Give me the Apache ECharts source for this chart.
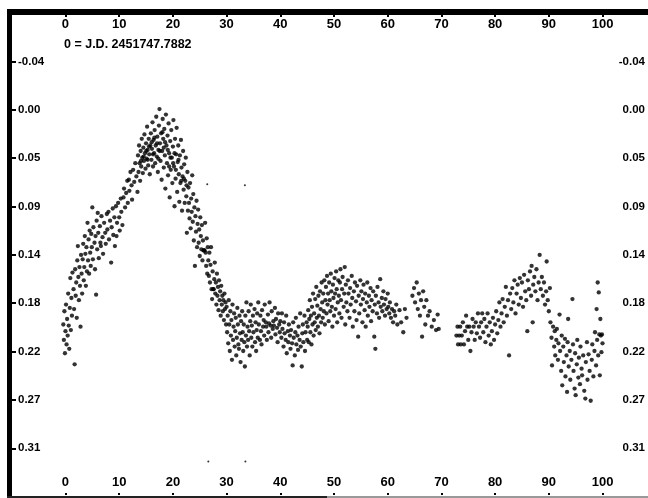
<!DOCTYPE html>
<html><head><meta charset="utf-8">
<script src="https://cdn.jsdelivr.net/npm/echarts@6/dist/echarts.min.js"></script>
<style>html,body{margin:0;padding:0;background:#fff}#c{width:648px;height:498px}</style>
</head><body><div id="c"></div>
<script>
const epochLabel = '0 = J.D. 2451747.7882';
const xTickLabels = ['0','10','20','30','40','50','60','70','80','90','100'];
const yTickLabels = ['-0.04','0.00','0.05','0.09','0.14','0.18','0.22','0.27','0.31'];
const yFirst = -0.04, yLast = 0.31, xFirst = 0, xLast = 100;

const rise = [[-0.4,0.198],[-0.3,0.212],[-0.2,0.186],[-0.1,0.224],[0.0,0.204],[0.1,0.180],[0.2,0.216],[0.3,0.193],[0.4,0.208],[0.5,0.170],[0.6,0.199],[0.7,0.220],[0.8,0.183],[0.9,0.156],[1.0,0.203],[1.1,0.174],[1.2,0.190],[1.3,0.151],[1.5,0.166],[1.6,0.184],[1.7,0.234],[1.8,0.148],[1.9,0.172],[2.0,0.160],[2.1,0.192],[2.2,0.140],[2.3,0.127],[2.4,0.155],[2.5,0.176],[2.6,0.146],[2.7,0.163],[2.8,0.200],[2.9,0.135],[3.0,0.152],[3.1,0.170],[3.2,0.139],[3.3,0.125],[3.4,0.158],[3.5,0.146],[3.6,0.118],[3.7,0.134],[3.8,0.163],[3.9,0.128],[4.0,0.150],[4.1,0.106],[4.2,0.140],[4.3,0.121],[4.4,0.152],[4.5,0.113],[4.6,0.133],[4.7,0.145],[4.8,0.116],[4.9,0.128],[5.0,0.092],[5.1,0.139],[5.2,0.110],[5.4,0.124],[5.5,0.148],[5.6,0.118],[5.7,0.171],[5.8,0.104],[5.9,0.130],[6.0,0.097],[6.1,0.115],[6.2,0.138],[6.4,0.109],[6.5,0.124],[6.6,0.127],[6.7,0.100],[6.9,0.119],[7.0,0.134],[7.2,0.106],[7.4,0.115],[7.5,0.125],[7.7,0.098],[7.8,0.112],[8.0,0.096],[8.1,0.121],[8.3,0.104],[8.5,0.142],[8.6,0.110],[8.8,0.093],[8.9,0.117],[9.1,0.101],[9.2,0.127],[9.4,0.091],[9.5,0.118],[9.6,0.106],[9.8,0.088],[10.0,0.101],[10.1,0.113],[10.3,0.084],[10.4,0.096],[10.6,0.108],[10.8,0.083],[10.9,0.075],[11.1,0.092],[11.3,0.079],[11.5,0.068],[11.6,0.088],[11.8,0.067],[11.9,0.077],[12.1,0.060],[12.3,0.072],[12.4,0.085],[12.6,0.058],[12.8,0.069],[13.0,0.052],[13.2,0.064],[13.4,0.078]];

const peak = [[13.5,0.045],[13.6,0.060],[13.7,0.036],[13.8,0.052],[13.9,0.068],[14.0,0.041],[14.1,0.055],[14.2,0.030],[14.3,0.047],[14.4,0.061],[14.5,0.038],[14.6,0.050],[14.7,0.026],[14.8,0.043],[14.9,0.057],[15.0,0.034],[15.1,0.048],[15.2,0.019],[15.3,0.040],[15.4,0.054],[15.5,0.030],[15.6,0.044],[15.7,0.062],[15.8,0.036],[15.9,0.025],[16.0,0.049],[16.1,0.039],[16.2,0.015],[16.3,0.055],[16.4,0.031],[16.5,0.043],[16.6,0.022],[16.7,0.052],[16.8,0.036],[16.9,0.010],[17.0,0.046],[17.1,0.028],[17.2,0.060],[17.3,0.040],[17.4,0.018],[17.5,0.003],[17.6,0.034],[17.7,0.050],[17.8,0.025],[17.9,0.067],[18.0,0.041],[18.1,0.012],[18.2,0.030],[18.3,0.056],[18.4,0.021],[18.5,0.045],[18.6,0.075],[18.7,0.008],[18.8,0.036],[18.9,0.052],[19.0,0.027],[19.1,0.063],[19.2,0.016],[19.3,0.043],[19.4,0.083],[19.5,0.032],[19.6,0.058],[19.7,0.022],[19.8,0.047],[19.9,0.070],[20.0,0.037],[20.1,0.013],[20.2,0.055],[20.3,0.091],[20.4,0.030],[20.5,0.066],[20.6,0.044],[20.7,0.020],[20.8,0.078],[20.9,0.051],[21.0,0.036],[21.1,0.062],[21.2,0.087],[21.3,0.045],[21.4,0.070],[21.5,0.031],[21.6,0.056],[21.7,0.095],[21.8,0.064],[21.9,0.041],[22.0,0.076],[22.1,0.053],[22.2,0.088],[22.3,0.068],[22.4,0.047],[22.5,0.082],[22.6,0.115],[22.7,0.060],[22.8,0.095],[22.9,0.074],[14.05,0.050],[14.55,0.046],[15.05,0.041],[15.55,0.037],[16.05,0.033],[16.55,0.029],[17.05,0.034],[17.55,0.041],[18.05,0.024],[18.55,0.033],[19.05,0.040],[19.55,0.047],[20.05,0.052],[20.55,0.058],[21.05,0.049],[21.55,0.068],[22.05,0.066],[22.55,0.072],[15.3,0.049],[16.3,0.044],[17.3,0.048],[18.3,0.038],[19.3,0.055],[20.3,0.043]];

const decline = [[23.0,0.088],[23.1,0.102],[23.2,0.070],[23.3,0.111],[23.4,0.084],[23.5,0.096],[23.6,0.063],[23.7,0.105],[23.8,0.080],[23.9,0.122],[24.0,0.092],[24.1,0.145],[24.2,0.100],[24.3,0.114],[24.4,0.086],[24.5,0.128],[24.6,0.107],[24.7,0.094],[24.8,0.124],[24.9,0.112],[25.0,0.136],[25.1,0.101],[25.2,0.118],[25.3,0.130],[25.4,0.108],[25.5,0.140],[25.6,0.122],[25.7,0.131],[25.8,0.131],[25.9,0.131],[26.0,0.106],[26.1,0.133],[26.2,0.145],[26.3,0.120],[26.4,0.152],[26.5,0.128],[26.6,0.140],[26.7,0.154],[26.8,0.133],[26.9,0.160],[27.0,0.144],[27.1,0.128],[27.2,0.166],[27.3,0.175],[27.4,0.150],[27.5,0.166],[27.6,0.166],[27.7,0.157],[27.8,0.142],[27.9,0.170],[28.0,0.160],[28.1,0.180],[28.2,0.152],[28.3,0.172],[28.4,0.164],[28.5,0.185],[28.6,0.158],[28.7,0.176],[28.8,0.168],[28.9,0.190],[29.0,0.163],[29.1,0.180],[29.2,0.172],[29.3,0.186],[29.4,0.176],[29.5,0.194],[29.6,0.170],[29.7,0.184],[29.8,0.178],[29.9,0.198]];

const trough = [[30.0,0.182],[30.1,0.205],[30.2,0.190],[30.3,0.215],[30.4,0.176],[30.5,0.198],[30.6,0.222],[30.7,0.186],[30.8,0.208],[30.9,0.194],[31.0,0.230],[31.1,0.180],[31.2,0.212],[31.3,0.200],[31.4,0.188],[31.5,0.218],[31.6,0.204],[31.7,0.192],[31.8,0.226],[31.9,0.210],[32.0,0.183],[32.1,0.198],[32.2,0.216],[32.3,0.220],[32.4,0.190],[32.5,0.206],[32.6,0.232],[32.7,0.195],[32.8,0.212],[32.9,0.186],[33.0,0.205],[33.1,0.222],[33.2,0.198],[33.3,0.214],[33.4,0.236],[33.5,0.190],[33.6,0.208],[33.7,0.178],[33.8,0.218],[33.9,0.200],[34.0,0.212],[34.1,0.186],[34.2,0.204],[34.3,0.226],[34.4,0.195],[34.5,0.180],[34.6,0.210],[34.7,0.199],[34.8,0.218],[34.9,0.190],[35.0,0.205],[35.2,0.184],[35.3,0.214],[35.4,0.196],[35.5,0.222],[35.6,0.203],[35.7,0.188],[35.8,0.210],[35.9,0.178],[36.0,0.198],[36.2,0.212],[36.3,0.190],[36.4,0.204],[36.5,0.216],[36.6,0.185],[36.8,0.200],[36.9,0.194],[37.0,0.208],[37.1,0.180],[37.3,0.196],[37.4,0.200],[37.5,0.212],[37.7,0.189],[37.8,0.205],[37.9,0.197],[38.0,0.178],[38.2,0.199],[38.3,0.210],[38.4,0.186],[38.6,0.202],[38.7,0.195],[38.8,0.199],[39.0,0.183],[39.1,0.207],[39.2,0.193],[39.4,0.201],[39.5,0.214],[39.6,0.188],[39.8,0.198],[39.9,0.205],[40.0,0.195],[40.2,0.210],[40.3,0.188],[40.4,0.202],[40.6,0.218],[40.7,0.196],[40.8,0.206],[41.0,0.212],[41.1,0.190],[41.2,0.224],[41.4,0.204],[41.5,0.214],[41.6,0.198],[41.8,0.208],[41.9,0.220],[42.0,0.203],[42.2,0.215],[42.3,0.235],[42.4,0.196],[42.5,0.210],[42.7,0.226],[42.8,0.205],[42.9,0.192],[43.0,0.216],[43.2,0.208],[43.3,0.221],[43.4,0.200],[43.6,0.212],[43.7,0.188],[43.8,0.218],[44.0,0.236],[44.1,0.206],[44.2,0.198],[44.3,0.214],[44.5,0.190],[44.6,0.222],[44.7,0.205],[44.9,0.196],[45.0,0.212]];

const hump = [[45.1,0.200],[45.2,0.185],[45.3,0.214],[45.4,0.193],[45.5,0.176],[45.6,0.205],[45.7,0.190],[45.8,0.216],[45.9,0.182],[46.0,0.198],[46.1,0.170],[46.2,0.208],[46.3,0.188],[46.4,0.196],[46.5,0.175],[46.6,0.203],[46.7,0.164],[46.8,0.192],[46.9,0.181],[47.0,0.200],[47.1,0.172],[47.2,0.190],[47.3,0.206],[47.4,0.168],[47.5,0.184],[47.6,0.196],[47.7,0.160],[47.8,0.178],[47.9,0.192],[48.0,0.170],[48.1,0.186],[48.2,0.158],[48.3,0.198],[48.4,0.176],[48.5,0.164],[48.6,0.188],[48.7,0.154],[48.8,0.180],[48.9,0.170],[49.0,0.195],[49.1,0.160],[49.2,0.176],[49.3,0.186],[49.4,0.152],[49.5,0.168],[49.6,0.182],[49.7,0.200],[49.8,0.162],[49.9,0.174],[50.0,0.190],[50.1,0.156],[50.2,0.170],[50.3,0.184],[50.4,0.150],[50.5,0.166],[50.6,0.196],[50.7,0.178],[50.8,0.158],[50.9,0.172],[51.0,0.188],[51.1,0.160],[51.2,0.148],[51.3,0.176],[51.4,0.192],[51.5,0.166],[51.6,0.155],[51.8,0.182],[51.9,0.170],[52.0,0.146],[52.1,0.198],[52.2,0.162],[52.3,0.178],[52.5,0.186],[52.6,0.158],[52.7,0.170],[52.9,0.192],[53.0,0.165],[53.1,0.180],[53.3,0.154],[53.4,0.174],[53.5,0.200],[53.7,0.168],[53.8,0.186],[53.9,0.160],[54.1,0.177],[54.2,0.194],[54.3,0.163],[54.5,0.209],[54.6,0.172],[54.7,0.188],[54.9,0.158],[55.0,0.180],[55.1,0.168],[55.3,0.196],[55.4,0.175],[55.5,0.162],[55.7,0.185],[55.8,0.170],[55.9,0.200],[56.1,0.178],[56.2,0.160],[56.3,0.190],[56.5,0.172],[56.6,0.182],[56.8,0.165],[56.9,0.195],[57.0,0.176],[57.2,0.186],[57.3,0.168],[57.5,0.209],[57.6,0.180],[57.7,0.220],[57.8,0.172],[58.0,0.188],[58.1,0.164],[58.3,0.178],[58.4,0.192],[58.6,0.157],[58.7,0.182],[58.9,0.174],[59.0,0.186],[59.2,0.168],[59.3,0.180],[59.5,0.190],[59.6,0.175],[59.8,0.184],[60.0,0.170],[60.1,0.182],[60.3,0.188],[60.4,0.178],[60.6,0.192],[60.8,0.184],[61.0,0.196],[61.2,0.186],[61.4,0.190],[61.6,0.180],[61.8,0.198],[62.2,0.185],[62.5,0.196],[62.9,0.205],[63.2,0.184],[63.5,0.192],[64.6,0.172],[64.9,0.165],[65.1,0.178],[65.4,0.160],[65.6,0.184],[65.8,0.170],[66.0,0.190],[66.2,0.176],[66.4,0.209],[66.6,0.168],[66.8,0.182],[67.0,0.198],[67.2,0.176],[67.5,0.190],[67.8,0.186],[68.2,0.200],[68.6,0.194],[69.0,0.203],[69.3,0.189],[69.5,0.202]];

const bump = [[72.8,0.208],[73.0,0.200],[73.1,0.216],[73.3,0.208],[73.5,0.200],[73.6,0.216],[73.8,0.208],[74.0,0.196],[74.2,0.216],[74.4,0.204],[74.6,0.190],[74.8,0.200],[75.0,0.212],[75.2,0.200],[75.4,0.222],[75.6,0.205],[75.8,0.193],[76.0,0.200],[76.2,0.212],[76.4,0.196],[76.6,0.206],[76.8,0.188],[77.0,0.200],[77.2,0.210],[77.4,0.196],[77.6,0.188],[77.8,0.205],[78.0,0.193],[78.2,0.214],[78.4,0.200],[78.6,0.188],[78.8,0.208],[79.0,0.196],[79.2,0.216],[79.4,0.204],[79.6,0.192],[79.8,0.212],[80.0,0.198],[80.2,0.186],[80.4,0.206],[80.6,0.194],[80.8,0.178],[81.0,0.200],[81.2,0.188],[81.4,0.175],[81.6,0.196],[81.8,0.182],[82.0,0.164],[82.2,0.190],[82.4,0.176],[82.6,0.226],[82.8,0.170],[83.0,0.184],[83.2,0.165],[83.4,0.178],[83.6,0.158],[83.8,0.188],[84.0,0.170],[84.2,0.162],[84.4,0.180],[84.6,0.156],[84.8,0.174],[85.0,0.160],[85.2,0.182],[85.4,0.153],[85.6,0.168],[85.8,0.176],[86.0,0.204],[86.1,0.158],[86.3,0.166],[86.5,0.150],[86.7,0.172],[86.8,0.145],[87.0,0.196],[87.1,0.162],[87.3,0.155],[87.5,0.168],[87.7,0.148],[87.9,0.176],[88.1,0.160],[88.3,0.135],[88.5,0.166],[88.7,0.155],[88.9,0.172],[89.1,0.160],[89.3,0.180],[89.5,0.168],[89.6,0.141],[89.8,0.176],[90.0,0.186],[90.2,0.165]];

const dip = [[90.3,0.196],[90.5,0.210],[90.6,0.235],[90.8,0.200],[91.0,0.218],[91.1,0.204],[91.2,0.226],[91.4,0.212],[91.5,0.202],[91.7,0.230],[91.8,0.215],[92.0,0.189],[92.1,0.222],[92.3,0.240],[92.4,0.208],[92.5,0.253],[92.7,0.218],[92.8,0.232],[93.0,0.211],[93.1,0.245],[93.3,0.226],[93.4,0.259],[93.5,0.214],[93.6,0.193],[93.7,0.236],[93.9,0.222],[94.0,0.248],[94.2,0.230],[94.4,0.175],[94.5,0.216],[94.6,0.240],[94.8,0.256],[94.9,0.224],[95.0,0.262],[95.2,0.234],[95.3,0.212],[95.5,0.246],[95.6,0.228],[95.8,0.252],[95.9,0.218],[96.1,0.238],[96.2,0.244],[96.4,0.226],[96.6,0.258],[96.8,0.265],[96.9,0.232],[97.1,0.214],[97.2,0.248],[97.4,0.225],[97.6,0.240],[97.8,0.267],[98.0,0.230],[98.1,0.216],[98.3,0.245],[98.5,0.222],[98.6,0.205],[98.8,0.235],[98.9,0.184],[99.0,0.212],[99.1,0.160],[99.2,0.226],[99.3,0.169],[99.4,0.207],[99.5,0.244],[99.6,0.193],[99.7,0.208],[99.8,0.223],[99.9,0.207],[100.0,0.215]];

const strays = [[26.4,0.071],[33.4,0.072],[26.6,0.322],[33.5,0.322]];

// tick values from the labelled range
const yStep = (yLast - yFirst) / (yTickLabels.length - 1);
const yTickValues = yTickLabels.map((_, i) => yFirst + i * yStep);
const xStep = (xLast - xFirst) / (xTickLabels.length - 1);
const xTickValues = xTickLabels.map((_, i) => xFirst + i * xStep);
const yFmt = v => yTickLabels[Math.round((v - yFirst) / yStep)] ?? '';
const xFmt = v => xTickLabels[Math.round((v - xFirst) / xStep)] ?? '';

// the plotting frame extends beyond the labelled range
const xAxisMin = -9.96, xAxisMax = 108.47;
const yAxisMin = -0.0821, yAxisMax = 0.3523;

const FONT = 'Liberation Sans, Arial, sans-serif';
const chart = echarts.init(document.getElementById('c'), null, {renderer: 'canvas'});

const xAx = (pos, margin) => ({
  type: 'value', position: pos, min: xAxisMin, max: xAxisMax,
  splitLine: {show: false}, axisLine: {show: false, onZero: false},
  axisTick: {show: true, inside: true, length: 2, lineStyle: {color: '#000', width: 2}, customValues: xTickValues},
  axisLabel: {inside: true, margin, color: '#000', fontFamily: FONT, fontWeight: 'bold', fontSize: 13,
    formatter: xFmt, customValues: xTickValues}
});
const yAx = (pos, tick, margin) => ({
  type: 'value', position: pos, min: yAxisMin, max: yAxisMax, inverse: true,
  splitLine: {show: false}, axisLine: {show: false, onZero: false},
  axisTick: {show: tick, inside: true, length: 4, lineStyle: {color: '#000', width: 2}, customValues: yTickValues},
  axisLabel: {inside: true, margin, color: '#000', fontFamily: FONT, fontWeight: 'bold', fontSize: 11.5,
    formatter: yFmt, customValues: yTickValues}
});

const mkSeries = (data, size) => ({
  type: 'scatter', data, symbol: 'circle', symbolSize: size, silent: true,
  itemStyle: {color: '#000'}, xAxisIndex: 0, yAxisIndex: 0
});

chart.setOption({
  animation: false,
  backgroundColor: '#fff',
  title: {text: epochLabel, left: 64, top: 38, padding: 0,
    textStyle: {fontFamily: FONT, fontWeight: 'bold', fontSize: 12.5, color: '#000'}},
  grid: {left: 12, right: 0, top: 15, bottom: 3},
  xAxis: [xAx('bottom', 6), xAx('top', 3)],
  yAxis: [yAx('left', true, 6), yAx('right', false, 3)],
  graphic: [
    {type: 'rect', shape: {x: 7, y: 9, width: 5, height: 489}, style: {fill: '#000'}, silent: true},
    {type: 'rect', shape: {x: 7, y: 9, width: 641, height: 6}, style: {fill: '#000'}, silent: true},
    {type: 'rect', shape: {x: 7, y: 496, width: 320, height: 2}, style: {fill: '#222'}, silent: true},
    {type: 'rect', shape: {x: 327, y: 496, width: 321, height: 2}, style: {fill: '#999'}, silent: true}
  ],
  series: [
    mkSeries(rise, 4.3), mkSeries(peak, 4.3), mkSeries(decline, 4.3), mkSeries(trough, 4.3),
    mkSeries(hump, 4.3), mkSeries(bump, 4.3), mkSeries(dip, 4.3), mkSeries(strays, 2)
  ]
});
</script></body></html>
